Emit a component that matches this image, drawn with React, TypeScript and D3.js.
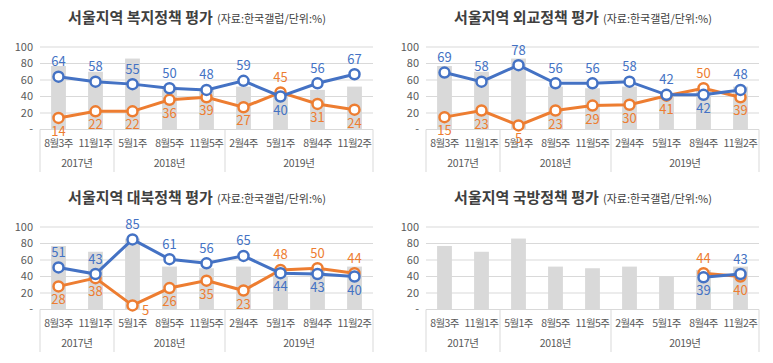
import React from 'react';
import * as d3 from 'd3';

// categories (x axis) and year groups
const categories = ['8월3주', '11월1주', '5월1주', '8월5주', '11월5주', '2월4주', '5월1주', '8월4주', '11월2주'];
const yearGroups = [
  { label: '2017년', from: 0, to: 1 },
  { label: '2018년', from: 2, to: 4 },
  { label: '2019년', from: 5, to: 8 },
];
const yTicks = [0, 20, 40, 60, 80, 100];

// grey bars are the same in every panel
const barValues = [77, 70, 86, 52, 50, 52, 40, 48, 52];

const welfareBlue = [64, 58, 55, 50, 48, 59, 40, 56, 67];
const welfareOrange = [14, 22, 22, 36, 39, 27, 45, 31, 24];
const diplomacyBlue = [69, 58, 78, 56, 56, 58, 42, 42, 48];
const diplomacyOrange = [15, 23, 5, 23, 29, 30, 41, 50, 39];
const northBlue = [51, 43, 85, 61, 56, 65, 44, 43, 40];
const northOrange = [28, 38, 5, 26, 35, 23, 48, 50, 44];
const defenseBlue = [null, null, null, null, null, null, null, 39, 43];
const defenseOrange = [null, null, null, null, null, null, null, 44, 40];

// label placement: u = above, d = below, r = right/below
const welfareBlueLbl = 'uuuuuuduu'.split('');
const welfareOrangeLbl = 'ddddddudd'.split('');
const diplomacyBlueLbl = 'uuuuuuudu'.split('');
const diplomacyOrangeLbl = 'dddddddud'.split('');
const northBlueLbl = 'uuuuuuddd'.split('');
const northOrangeLbl = 'ddrddduuu'.split('');
const defenseBlueLbl = 'ddddddddu'.split('');
const defenseOrangeLbl = 'uuuuuuuud'.split('');

const BLUE = '#4472C4';
const ORANGE = '#ED7D31';
const BAR = '#D9D9D9';
const GRID = '#D9D9D9';
const TEXT = '#595959';
const FONT = '"Noto Sans CJK KR", "Noto Sans", sans-serif';

type Val = number | null;

function Panel(props: {
  ox: number;
  oy: number;
  title: string;
  blue: Val[];
  orange: Val[];
  blueLbl: string[];
  orangeLbl: string[];
}) {
  const { ox, oy, title, blue, orange, blueLbl, orangeLbl } = props;
  const left = ox + 40;
  const right = ox + 373;
  const y0 = oy + 129.5;
  const y100 = oy + 47;

  const x = d3
    .scaleBand<number>()
    .domain(categories.map((_, i) => i))
    .range([left, right])
    .paddingInner(0.6)
    .paddingOuter(0.3);
  const step = x.step();
  const cx = (i: number) => (x(i) as number) + x.bandwidth() / 2;
  const bandStart = (i: number) => left + step * i;

  const y = d3.scaleLinear().domain([0, 100]).range([y0, y100]);

  const line = d3
    .line<Val>()
    .defined((d) => d != null)
    .x((_, i) => cx(i))
    .y((d) => y(d as number));

  const labelPos = (i: number, v: number, pos: string) => {
    if (pos === 'u') return { lx: cx(i), ly: y(v) - 15 };
    if (pos === 'r') return { lx: cx(i) + 13, ly: y(v) + 5 };
    return { lx: cx(i), ly: y(v) + 13.5 };
  };

  const series = [
    { vals: orange, color: ORANGE, lbl: orangeLbl },
    { vals: blue, color: BLUE, lbl: blueLbl },
  ];

  return (
    <g fontFamily={FONT}>
      <text x={ox + 197} y={oy + 23} textAnchor="middle" fill="#404040">
        <tspan fontSize={15} fontWeight="bold">{title}</tspan>
        <tspan fontSize={11} dx={4}>(자료:한국갤럽/단위:%)</tspan>
      </text>

      {yTicks.map((t) => (
        <g key={t}>
          {t > 0 && <line x1={left} x2={right} y1={y(t)} y2={y(t)} stroke={GRID} strokeWidth={1} />}
          <text x={ox + 33} y={y(t)} dy="0.35em" textAnchor="end" fontSize={11} fill={TEXT}>
            {t === 0 ? '-' : t}
          </text>
        </g>
      ))}

      {barValues.map((v, i) => (
        <rect key={i} x={x(i)} y={y(v)} width={x.bandwidth()} height={y0 - y(v)} fill={BAR} />
      ))}

      <line x1={left} x2={right} y1={y0} y2={y0} stroke={GRID} strokeWidth={1} />
      {[0, 2, 5, 9].map((b) => (
        <line key={b} x1={bandStart(b)} x2={bandStart(b)} y1={y0} y2={oy + 172} stroke={GRID} strokeWidth={1} />
      ))}

      {categories.map((c, i) => (
        <text key={i} x={cx(i)} y={oy + 143} dy="0.35em" textAnchor="middle" fontSize={10.5} letterSpacing={-0.6} fill={TEXT}>
          {c}
        </text>
      ))}
      {yearGroups.map((g) => (
        <text
          key={g.label}
          x={(bandStart(g.from) + bandStart(g.to + 1)) / 2}
          y={oy + 163}
          dy="0.35em"
          textAnchor="middle"
          fontSize={10.5}
          letterSpacing={-0.3}
          fill={TEXT}
        >
          {g.label}
        </text>
      ))}

      {series.map((s, si) => (
        <g key={si}>
          <path d={line(s.vals) || ''} fill="none" stroke={s.color} strokeWidth={3} />
          {s.vals.map((v, i) =>
            v == null ? null : (
              <circle key={i} cx={cx(i)} cy={y(v)} r={5} fill="#fff" stroke={s.color} strokeWidth={2.5} />
            )
          )}
        </g>
      ))}
      {series.map((s, si) => (
        <g key={'l' + si}>
          {s.vals.map((v, i) => {
            if (v == null) return null;
            const { lx, ly } = labelPos(i, v, s.lbl[i]);
            return (
              <text key={i} x={lx} y={ly} dy="0.35em" textAnchor="middle" fontSize={13} fill={s.color}>
                {v}
              </text>
            );
          })}
        </g>
      ))}
    </g>
  );
}

export default function App() {
  return (
    <svg width={773} height={363} style={{ position: 'absolute', left: 0, top: 0, background: '#fff' }}>
      <rect width={773} height={363} fill="#fff" />
      <Panel ox={0} oy={0} title="서울지역 복지정책 평가" blue={welfareBlue} orange={welfareOrange} blueLbl={welfareBlueLbl} orangeLbl={welfareOrangeLbl} />
      <Panel ox={386} oy={0} title="서울지역 외교정책 평가" blue={diplomacyBlue} orange={diplomacyOrange} blueLbl={diplomacyBlueLbl} orangeLbl={diplomacyOrangeLbl} />
      <Panel ox={0} oy={180} title="서울지역 대북정책 평가" blue={northBlue} orange={northOrange} blueLbl={northBlueLbl} orangeLbl={northOrangeLbl} />
      <Panel ox={386} oy={180} title="서울지역 국방정책 평가" blue={defenseBlue} orange={defenseOrange} blueLbl={defenseBlueLbl} orangeLbl={defenseOrangeLbl} />
    </svg>
  );
}
